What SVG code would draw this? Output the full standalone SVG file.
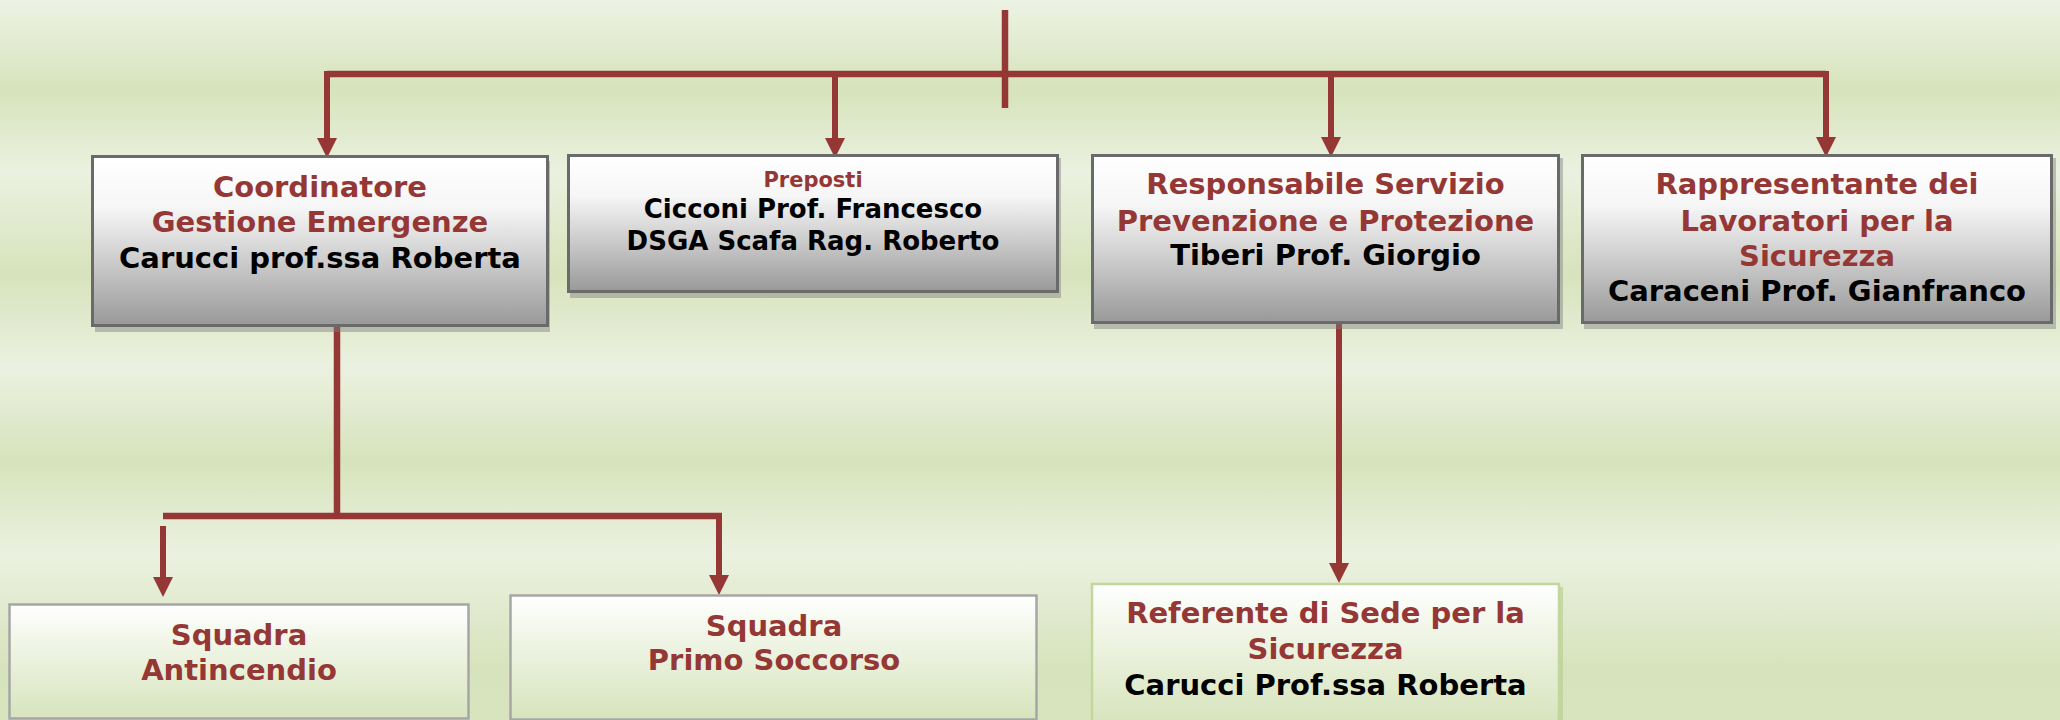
<svg xmlns="http://www.w3.org/2000/svg" width="2060" height="720" viewBox="0 0 2060 720">
  <defs>
    <!-- banded green backdrop -->
    <linearGradient id="bg" gradientUnits="userSpaceOnUse" x1="0" y1="0" x2="0" y2="720">
      <stop offset="0" stop-color="#edf3e4"/>
      <stop offset="0.125" stop-color="#d7e3bc"/>
      <stop offset="0.24" stop-color="#ebf1e0"/>
      <stop offset="0.38" stop-color="#d7e3bc"/>
      <stop offset="0.51" stop-color="#ebf1e0"/>
      <stop offset="0.64" stop-color="#d7e3bc"/>
      <stop offset="0.77" stop-color="#ebf1e0"/>
      <stop offset="0.93" stop-color="#d7e3bc"/>
      <stop offset="1" stop-color="#d8e4be"/>
    </linearGradient>
    <!-- grey fill for the upper row of boxes -->
    <linearGradient id="greyFill" x1="0" y1="0" x2="0" y2="1">
      <stop offset="0" stop-color="#ffffff"/>
      <stop offset="0.3" stop-color="#f6f6f6"/>
      <stop offset="0.6" stop-color="#cfcfcf"/>
      <stop offset="1" stop-color="#999999"/>
    </linearGradient>
    <!-- green fill for the lower row of boxes -->
    <linearGradient id="greenFill" x1="0" y1="0" x2="0" y2="1">
      <stop offset="0" stop-color="#ffffff"/>
      <stop offset="0.35" stop-color="#f0f5e6"/>
      <stop offset="1" stop-color="#d7e4bd"/>
    </linearGradient>
    <marker id="arrow" markerUnits="userSpaceOnUse" markerWidth="20" markerHeight="20" refX="2" refY="10" orient="auto">
      <path d="M0,0 L20,10 L0,20 Z" fill="#953735"/>
    </marker>
  </defs>
  <style>
    .t { font-family: Verdana, "DejaVu Sans", sans-serif; font-weight: bold; text-anchor: middle; }
    .red { fill: #953735; }
    .blk { fill: #000000; }
    .f29 { font-size: 29px; }
    .f26 { font-size: 26px; }
    .f21 { font-size: 21px; }
    .grey { fill: url(#greyFill); stroke: #6a6a6a; stroke-width: 3; }
    .shadow { fill: #7f7f7f; opacity: 0.45; }
    .lowGrey { fill: url(#greenFill); stroke: #a6a6a6; stroke-width: 2.5; }
    .lowGreen { fill: url(#greenFill); stroke: #c3d69b; stroke-width: 2.5; }
    .wire { fill: none; stroke: #953735; stroke-width: 6.5; }
    .shaft { fill: none; stroke: #953735; stroke-width: 6; marker-end: url(#arrow); }
  </style>

  <rect x="0" y="0" width="2060" height="720" fill="url(#bg)"/>

  <!-- connectors -->
  <g id="connectors">
    <path class="wire" d="M1005,10 V108"/>
    <path class="wire" d="M327,74 H1826"/>
    <path class="shaft" d="M327,71 V140"/>
    <path class="shaft" d="M835,74 V140"/>
    <path class="shaft" d="M1331,74 V139"/>
    <path class="shaft" d="M1826,71 V139"/>
    <path class="wire" d="M337,327 V516"/>
    <path class="wire" d="M163,516 H722"/>
    <path class="shaft" d="M163,526 V579"/>
    <path class="shaft" d="M719,513 V577"/>
    <path class="shaft" d="M1339,324 V565"/>
  </g>

  <g id="coordinatore">
    <rect class="shadow" x="95" y="161" width="455" height="171"/>
    <rect class="grey" x="92.5" y="156.5" width="455" height="169"/>
    <text class="t f29 red" x="320" y="197">Coordinatore</text>
    <text class="t f29 red" x="320" y="232">Gestione Emergenze</text>
    <text class="t f29 blk" x="320" y="268">Carucci prof.ssa Roberta</text>
  </g>

  <g id="preposti">
    <rect class="shadow" x="570" y="158" width="491" height="140"/>
    <rect class="grey" x="568.5" y="155.5" width="489" height="136"/>
    <text class="t f21 red" x="813" y="187">Preposti</text>
    <text class="t f26 blk" x="813" y="218">Cicconi Prof. Francesco</text>
    <text class="t f26 blk" x="813" y="250">DSGA Scafa Rag. Roberto</text>
  </g>

  <g id="rspp">
    <rect class="shadow" x="1094" y="158" width="469" height="171"/>
    <rect class="grey" x="1092.5" y="155.5" width="466" height="167"/>
    <text class="t f29 red" x="1325.5" y="194">Responsabile Servizio</text>
    <text class="t f29 red" x="1325.5" y="231">Prevenzione e Protezione</text>
    <text class="t f29 blk" x="1325.5" y="265">Tiberi Prof. Giorgio</text>
  </g>

  <g id="rls">
    <rect class="shadow" x="1584" y="158" width="472" height="171"/>
    <rect class="grey" x="1582.5" y="155.5" width="469" height="167"/>
    <text class="t f29 red" x="1817" y="194">Rappresentante dei</text>
    <text class="t f29 red" x="1817" y="231">Lavoratori per la</text>
    <text class="t f29 red" x="1817" y="266">Sicurezza</text>
    <text class="t f29 blk" x="1817" y="301">Caraceni Prof. Gianfranco</text>
  </g>

  <g id="squadra-antincendio">
    <rect class="lowGrey" x="9.5" y="604.5" width="459" height="114"/>
    <text class="t f29 red" x="239" y="645">Squadra</text>
    <text class="t f29 red" x="239" y="680">Antincendio</text>
  </g>

  <g id="squadra-primo-soccorso">
    <rect class="lowGrey" x="510.5" y="595.5" width="526" height="124"/>
    <text class="t f29 red" x="774" y="636">Squadra</text>
    <text class="t f29 red" x="774" y="670">Primo Soccorso</text>
  </g>

  <g id="referente-sede">
    <rect x="1095" y="587" width="468" height="135" fill="#b5c98e" opacity="0.6"/>
    <rect class="lowGreen" x="1092" y="584" width="467" height="138"/>
    <text class="t f29 red" x="1325.5" y="623">Referente di Sede per la</text>
    <text class="t f29 red" x="1325.5" y="659">Sicurezza</text>
    <text class="t f29 blk" x="1325.5" y="695">Carucci Prof.ssa Roberta</text>
  </g>
</svg>
